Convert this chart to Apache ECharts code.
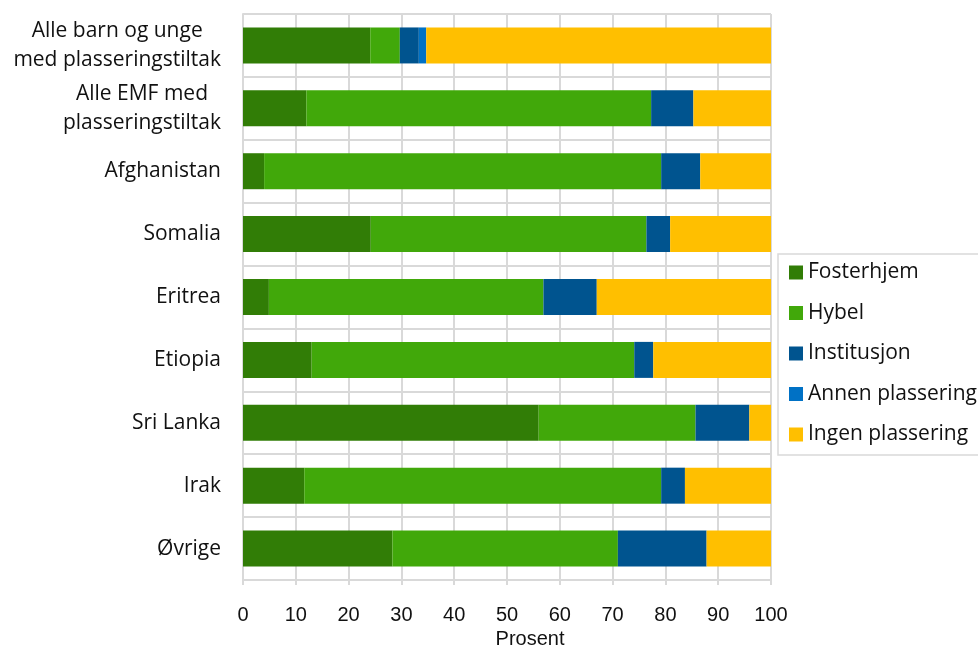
<!DOCTYPE html>
<html>
<head>
<meta charset="utf-8">
<script src="https://cdn.jsdelivr.net/npm/echarts@6/dist/echarts.min.js"></script>
<style>
  html, body { margin: 0; padding: 0; background: #fff; }
  #chart { width: 978px; height: 646px; }
</style>
</head>
<body>
<div id="chart"></div>
<script>
// kategorier (øverst først)
const categories = [
  'Alle barn og unge\nmed plasseringstiltak',
  'Alle EMF med\nplasseringstiltak',
  'Afghanistan',
  'Somalia',
  'Eritrea',
  'Etiopia',
  'Sri Lanka',
  'Irak',
  'Øvrige'
]
const seriesNames = ['Fosterhjem', 'Hybel', 'Institusjon', 'Annen plassering', 'Ingen plassering']
const fosterhjem = [24.1, 12.0, 4.0, 24.2, 4.9, 13.0, 56.0, 11.6, 28.3]
const hybel = [5.6, 65.3, 75.2, 52.2, 52.0, 61.1, 29.7, 67.6, 42.7]
const institusjon = [3.6, 8.0, 7.4, 4.5, 10.1, 3.6, 10.2, 4.5, 16.8]
const annen = [1.4, 0, 0, 0, 0, 0, 0, 0, 0]
const ingen = [65.3, 14.7, 13.4, 19.1, 33.0, 22.3, 4.1, 16.3, 12.2]
const xTicks = [0, 10, 20, 30, 40, 50, 60, 70, 80, 90, 100]

const colors = ['#317d06', '#41a80a', '#00548f', '#0071c5', '#ffbf00']
const values = [fosterhjem, hybel, institusjon, annen, ingen]

const gridColor = '#d9d9d9'
const myChart = echarts.init(document.getElementById('chart'))
const option = {
  animation: false,
  color: colors,
  legend: {
    orient: 'vertical',
    left: 778,
    top: 254,
    padding: [8, 14, 10, 11],
    itemWidth: 14,
    itemHeight: 14,
    itemGap: 19.5,
    borderColor: gridColor,
    borderWidth: 1.5,
    icon: 'rect',
    textStyle: {
      fontFamily: 'Open Sans',
      fontSize: 21,
      color: '#111'
    },
    data: seriesNames
  },
  grid: {
    left: 243,
    right: 207,
    top: 14,
    bottom: 66,
    outerBoundsMode: 'none'
  },
  xAxis: {
    type: 'value',
    min: xTicks[0],
    max: xTicks[xTicks.length - 1],
    interval: 10,
    name: 'Prosent',
    nameLocation: 'middle',
    nameGap: 49,
    nameTextStyle: { fontFamily: 'Liberation Sans', fontSize: 20, color: '#111', padding: [0, 0, 0, 46] },
    axisLine: { show: true, lineStyle: { color: gridColor, width: 2 } },
    axisTick: { show: true, length: 5, lineStyle: { color: gridColor, width: 2 } },
    axisLabel: { fontFamily: 'Liberation Sans', fontSize: 20, color: '#111', margin: 25 },
    splitLine: { show: true, lineStyle: { color: gridColor, width: 2 } }
  },
  yAxis: {
    type: 'category',
    inverse: true,
    data: categories,
    axisLine: { show: true, lineStyle: { color: gridColor, width: 2 } },
    axisTick: { show: false },
    axisLabel: {
      margin: 22,
      align: 'right',
      // linjene i en etikett sentreres mot hverandre
      formatter: function (value) {
        return value.split('\n').map(s => '{c|' + s + '}').join('\n')
      },
      rich: {
        c: {
          align: 'center',
          fontFamily: 'Open Sans',
          fontSize: 21,
          color: '#111',
          lineHeight: 29
        }
      }
    },
    splitLine: { show: true, lineStyle: { color: gridColor, width: 2 } }
  },
  series: seriesNames.map((name, i) => ({
    name: name,
    type: 'bar',
    stack: 'total',
    barWidth: 36,
    data: values[i],
    itemStyle: { color: colors[i] }
  }))
}
myChart.setOption(option)
</script>
</body>
</html>
